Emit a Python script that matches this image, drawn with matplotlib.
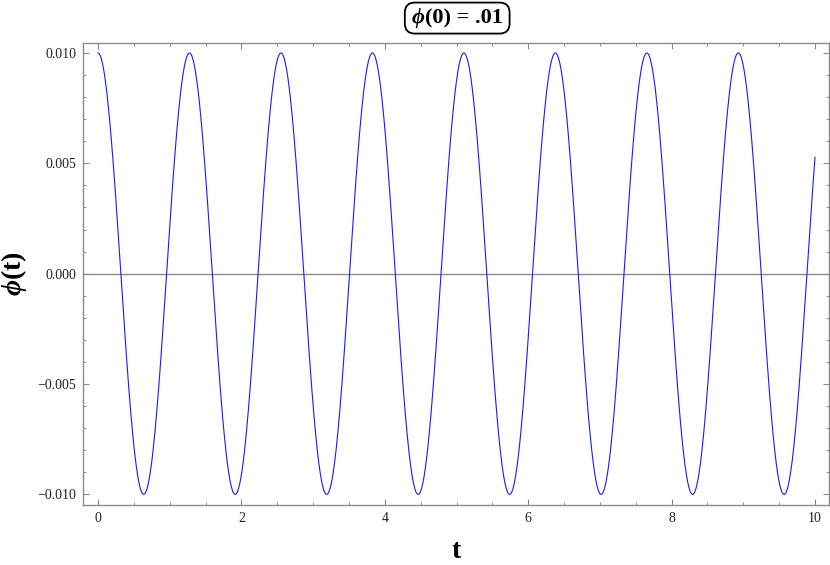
import numpy as np
import matplotlib
matplotlib.use('Agg')
import matplotlib.pyplot as plt
from matplotlib.ticker import MultipleLocator, FuncFormatter
from matplotlib.patches import FancyBboxPatch
from matplotlib.transforms import Bbox, IdentityTransform

# phi(t) = phi0 * cos(omega * t)
phi0 = 0.01          # initial value from the title
omega = 4.925        # peaks at ~1.28, 2.55, ..., 8.93
t_start, t_end = 0.0, 10.0

t = np.linspace(t_start, t_end, 2000)
phi = phi0 * np.cos(omega * t)

plt.rcParams['font.family'] = ['Liberation Serif', 'DejaVu Serif']
plt.rcParams['mathtext.fontset'] = 'custom'
plt.rcParams['mathtext.rm'] = 'Liberation Serif'
plt.rcParams['mathtext.bf'] = 'Liberation Serif:bold'
plt.rcParams['mathtext.it'] = 'Liberation Serif:italic'
plt.rcParams['mathtext.bfit'] = 'Liberation Serif:italic:bold'
plt.rcParams['axes.unicode_minus'] = True

fig = plt.figure(figsize=(8.3, 5.65), dpi=100)
ax = fig.add_axes([0.1, 0.1062, 0.8988, 0.8172])

ax.axhline(0, color='#8c8c8c', lw=1.0, zorder=1)
ax.plot(t, phi, color='#1a1aff', lw=0.8, zorder=2)

ax.set_xlim(-0.209, 10.195)
ax.set_ylim(-0.01048, 0.01044)

ax.xaxis.set_major_locator(MultipleLocator(2))
ax.xaxis.set_minor_locator(MultipleLocator(0.5))
ax.yaxis.set_major_locator(MultipleLocator(0.005))
ax.yaxis.set_minor_locator(MultipleLocator(0.001))
ax.yaxis.set_major_formatter(FuncFormatter(lambda v, p: f'{v:.3f}'.replace('-', '\u2212')
                                           if abs(v) > 1e-12 else '0.000'))

for s in ax.spines.values():
    s.set_color('#8c8c8c')
    s.set_linewidth(1.0)

ax.tick_params(which='both', direction='in', top=True, right=True,
               color='#8c8c8c', labelsize=10, labelcolor='#222222')
ax.tick_params(which='major', length=4, width=0.8, pad=5)
ax.tick_params(which='minor', length=2.5, width=0.7)

ax.set_xlabel('t', fontsize=20, fontweight='bold', labelpad=10)
ax.set_ylabel(r'$\mathbfit{\phi}\mathbf{(t)}$', fontsize=20)
ax.yaxis.set_label_coords(-0.072, 0.5)

# title: italic bold phi + bold rest, inside a rounded frame
tx, ty = 0.5117, 0.968
t1 = fig.text(tx, ty, '\u03d5', fontsize=16, fontweight='bold', fontstyle='italic',
              ha='right', va='center')
t2 = fig.text(tx, ty, '(0) = .01', fontsize=16, fontweight='bold',
              ha='left', va='center')
fig.canvas.draw()
r = fig.canvas.get_renderer()
bb = Bbox.union([t1.get_window_extent(r), t2.get_window_extent(r)])
cy = 0.5 * (bb.y0 + bb.y1)
box = FancyBboxPatch((bb.x0 - 7, cy - 15.5), bb.width + 14, 31,
                     boxstyle='round,pad=0,rounding_size=10',
                     transform=IdentityTransform(), fc='white', ec='black', lw=1.3, zorder=0)
fig.add_artist(box)

fig.savefig('out.png', dpi=100)
